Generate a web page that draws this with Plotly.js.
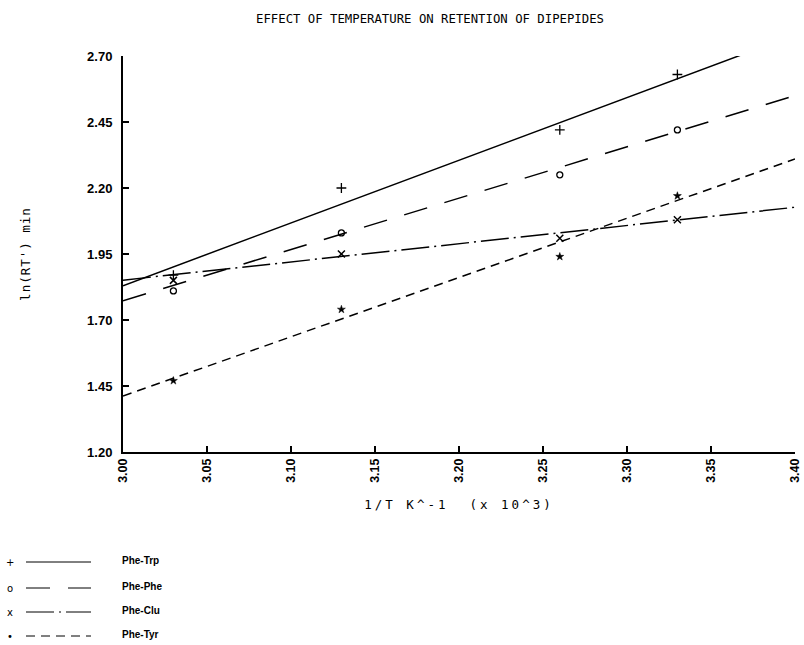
<!DOCTYPE html>
<html><head><meta charset="utf-8">
<script src="https://cdn.plot.ly/plotly-3.0.1.min.js"></script>
<style>
html,body{margin:0;padding:0;background:#fff}
.xtitle{letter-spacing:3px}
.ytitle{letter-spacing:1px}
</style>
</head><body><div id="chart" style="width:804px;height:645px"></div>
<script>
// ---- data ----
const seriesNames = ['Phe-Trp', 'Phe-Phe', 'Phe-Clu', 'Phe-Tyr'];
const invT = [3.03, 3.13, 3.26, 3.33];
const pheTrp = [1.87, 2.20, 2.42, 2.63];
const phePhe = [1.81, 2.03, 2.25, 2.42];
const pheGlu = [1.85, 1.95, 2.01, 2.08];
const pheTyr = [1.47, 1.74, 1.94, 2.17];
const fitX = [3.00, 3.40];
const pheTrpFit = [1.83, 2.78];
const phePheFit = [1.773, 2.55];
const pheGluFit = [1.851, 2.127];
const pheTyrFit = [1.412, 2.31];
const xTickVals = [3.00, 3.05, 3.10, 3.15, 3.20, 3.25, 3.30, 3.35, 3.40];
const xTickText = ['3.00', '3.05', '3.10', '3.15', '3.20', '3.25', '3.30', '3.35', '3.40'];
const yTickVals = [1.20, 1.45, 1.70, 1.95, 2.20, 2.45, 2.70];
const yTickText = ['1.20', '1.45', '1.70', '1.95', '2.20', '2.45', '2.70'];
const legendGlyphs = ['+', 'o', 'x', '•'];

// ---- styles ----
const W = 804, H = 645;
const L = 123, R = 9, T = 56, B = 193;
const pw = W - L - R, ph = H - T - B;
const xp = px => (px - L) / pw;
const yp = py => (H - B - py) / ph;
const dashes = ['solid', '24px,18px', '28px,5px,2px,5px', '9px,6px'];
const markers = [
  {symbol: 'cross-thin-open', size: 7, line: {width: 1.3, color: '#000'}, color: '#000'},
  {symbol: 'circle-open', size: 6, line: {width: 1.3, color: '#000'}, color: '#000'},
  {symbol: 'x-thin-open', size: 7, line: {width: 1.5, color: '#000'}, color: '#000'},
  {symbol: 'star', size: 6, line: {width: 0.5, color: '#000'}, color: '#000'}
];
const pts = [pheTrp, phePhe, pheGlu, pheTyr];
const fits = [pheTrpFit, phePheFit, pheGluFit, pheTyrFit];

const traces = [];
for (let i = 0; i < 4; i++) {
  traces.push({x: fitX, y: fits[i], mode: 'lines', type: 'scatter', name: seriesNames[i],
    line: {color: '#000', width: 1.5, dash: dashes[i]}, showlegend: false, hoverinfo: 'skip'});
  traces.push({x: invT, y: pts[i], mode: 'markers', type: 'scatter', name: seriesNames[i],
    marker: markers[i], showlegend: false});
}

// ---- custom legend (bottom left) ----
const legRows = [562, 588, 612, 636];
const shapes = [], annotations = [];
for (let i = 0; i < 4; i++) {
  shapes.push({type: 'line', xref: 'paper', yref: 'paper',
    x0: xp(26), x1: xp(91), y0: yp(legRows[i]), y1: yp(legRows[i]),
    line: {color: '#000', width: 1, dash: dashes[i]}});
  annotations.push({xref: 'paper', yref: 'paper', x: xp(10), y: yp(legRows[i]),
    text: legendGlyphs[i], showarrow: false, xanchor: 'center', yanchor: 'middle',
    font: {family: 'DejaVu Sans', size: 10, color: '#000'}});
  annotations.push({xref: 'paper', yref: 'paper', x: xp(120), y: yp(legRows[i] - 2),
    text: seriesNames[i], showarrow: false, xanchor: 'left', yanchor: 'middle',
    font: {family: 'Liberation Sans', size: 10, color: '#000', weight: 'bold'}});
}

const layout = {
  width: W, height: H,
  margin: {l: L, r: R, t: T, b: B},
  paper_bgcolor: '#fff', plot_bgcolor: '#fff',
  showlegend: false,
  title: {text: 'EFFECT OF TEMPERATURE ON RETENTION OF DIPEPIDES',
    x: 430 / W, xanchor: 'center', xref: 'container', y: 1 - 19 / H, yanchor: 'middle',
    font: {family: 'DejaVu Sans Mono', size: 12.3, color: '#000'}},
  xaxis: {range: [3.00, 3.40], tickvals: xTickVals, ticktext: xTickText, tickangle: -90,
    ticks: 'inside', ticklen: 6, tickwidth: 1.2, tickcolor: '#000',
    showline: true, linecolor: '#000', linewidth: 1.5, showgrid: false, zeroline: false,
    tickfont: {family: 'Liberation Sans', size: 12.5, color: '#000', weight: 'bold'},
    title: {text: '1/T K^-1  (x 10^3)', standoff: 18,
      font: {family: 'DejaVu Sans Mono', size: 12.5, color: '#000'}}},
  yaxis: {range: [1.20, 2.70], tickvals: yTickVals, ticktext: yTickText,
    ticks: 'inside', ticklen: 6, tickwidth: 1.5, tickcolor: '#000',
    showline: true, linecolor: '#000', linewidth: 2, showgrid: false, zeroline: false,
    ticklabelstandoff: 6,
    tickfont: {family: 'Liberation Sans', size: 13, color: '#000', weight: 'bold'},
    title: {text: "ln(RT') min", standoff: 54,
      font: {family: 'DejaVu Sans Mono', size: 12.5, color: '#000'}}},
  shapes: shapes, annotations: annotations
};

Plotly.newPlot('chart', traces, layout, {displayModeBar: false, staticPlot: true});
</script>
</body></html>
